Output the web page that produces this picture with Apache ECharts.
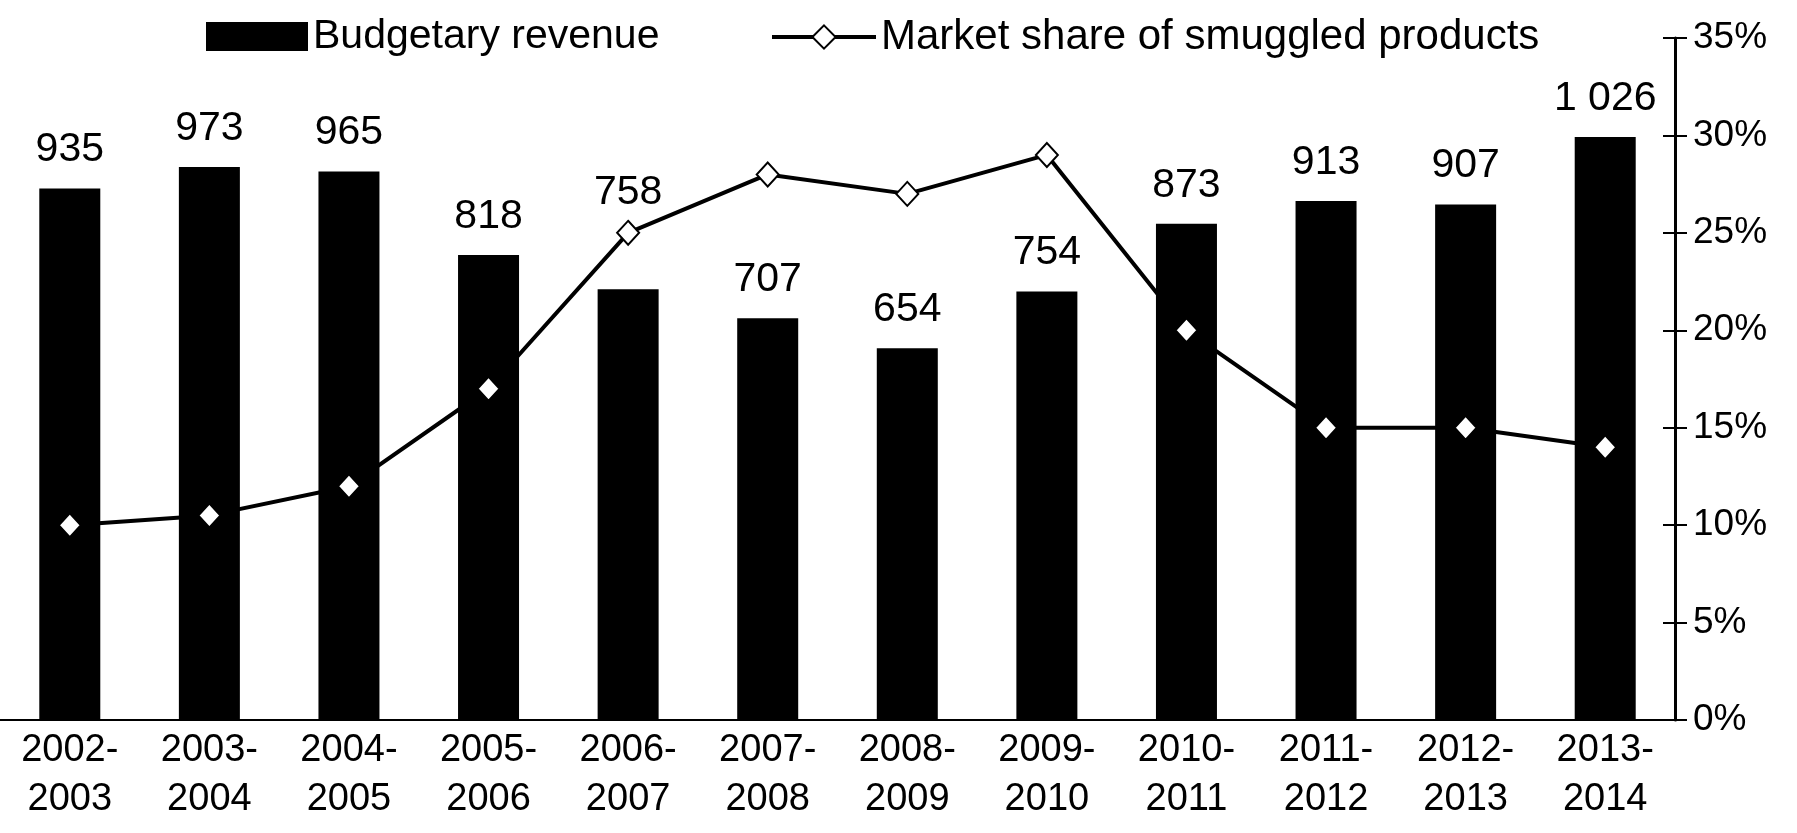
<!DOCTYPE html>
<html>
<head>
<meta charset="utf-8">
<script src="https://cdn.jsdelivr.net/npm/echarts@6/dist/echarts.min.js"></script>
<style>
  html, body { margin: 0; padding: 0; background: #fff; }
  #myChart { width: 1797px; height: 833px; }
</style>
</head>
<body>
<div id="myChart"></div>
<script>
// categories (fiscal years)
var years = ['2002-\n2003', '2003-\n2004', '2004-\n2005', '2005-\n2006', '2006-\n2007', '2007-\n2008',
  '2008-\n2009', '2009-\n2010', '2010-\n2011', '2011-\n2012', '2012-\n2013', '2013-\n2014'];
// budgetary revenue
var revenue = [935, 973, 965, 818, 758, 707, 654, 754, 873, 913, 907, 1026];
// market share of smuggled products (fraction)
var smuggled = [0.10, 0.105, 0.12, 0.17, 0.25, 0.28, 0.27, 0.29, 0.20, 0.15, 0.15, 0.14];
// right axis ticks
var shareMin = 0, shareMax = 0.35, shareStep = 0.05;

var FONT = '"Liberation Sans", Arial, sans-serif';

var myChart = echarts.init(document.getElementById('myChart'));

function spaced(v) {
  // 1026 -> "1 026"
  return String(v).replace(/\B(?=(\d{3})+(?!\d))/g, ' ');
}

// the 2006-2007 label sits above the line in the original, moved up by hand
var revenueData = revenue.map(function (v, i) {
  if (i === 4) return { value: v, label: { offset: [0, -58] } };
  return v;
});

var option = {
  animation: false,
  backgroundColor: '#fff',
  textStyle: { fontFamily: FONT, color: '#000' },
  legend: [{
    data: [{ name: 'Budgetary revenue', icon: 'rect' }],
    left: 201, top: 11,
    itemWidth: 102, itemHeight: 29, itemGap: 10,
    textStyle: { fontSize: 41, color: '#000', fontFamily: FONT }
  }, {
    data: ['Market share of smuggled products'],
    left: 765, top: 11,
    itemWidth: 104, itemHeight: 29, itemGap: 12,
    lineStyle: { width: 4, color: '#000' },
    textStyle: { fontSize: 42, color: '#000', fontFamily: FONT }
  }],
  grid: { left: -2, right: 122, top: 38, bottom: 113, containLabel: false },
  xAxis: {
    type: 'category',
    data: years,
    axisLine: { lineStyle: { color: '#000', width: 2 } },
    axisTick: { show: false },
    axisLabel: { fontSize: 38, lineHeight: 49, color: '#000', margin: 6, interval: 0, fontFamily: FONT }
  },
  yAxis: [{
    type: 'value', min: 0, max: 1200, show: false
  }, {
    type: 'value', position: 'right',
    min: shareMin, max: shareMax, interval: shareStep,
    axisLine: { show: true, lineStyle: { color: '#000', width: 3 } },
    axisTick: { show: true, length: 12, lineStyle: { color: '#000', width: 2 } },
    splitLine: { show: false },
    axisLabel: {
      fontSize: 37, color: '#000', margin: 18, fontFamily: FONT,
      formatter: function (v) { return Math.round(v * 100) + '%'; }
    }
  }, {
    // inner half of the crossing ticks
    type: 'value', position: 'right',
    min: shareMin, max: shareMax, interval: shareStep,
    axisLine: { show: false },
    axisTick: { show: true, inside: true, length: 12, lineStyle: { color: '#000', width: 2 } },
    axisLabel: { show: false },
    splitLine: { show: false }
  }],
  series: [{
    name: 'Budgetary revenue',
    type: 'bar',
    yAxisIndex: 0,
    data: revenueData,
    barWidth: 61,
    itemStyle: { color: '#000' },
    label: {
      show: true, position: 'top', distance: 18,
      fontSize: 41, color: '#000', fontFamily: FONT,
      formatter: function (p) { return spaced(p.value); }
    }
  }, {
    name: 'Market share of smuggled products',
    type: 'line',
    yAxisIndex: 1,
    data: smuggled,
    symbol: 'diamond',
    symbolSize: [22, 24],
    lineStyle: { color: '#000', width: 4 },
    itemStyle: { color: '#fff', borderColor: '#000', borderWidth: 2 },
    z: 3
  }]
};

window.onresize = myChart.resize;
myChart.setOption(option);
</script>
</body>
</html>
